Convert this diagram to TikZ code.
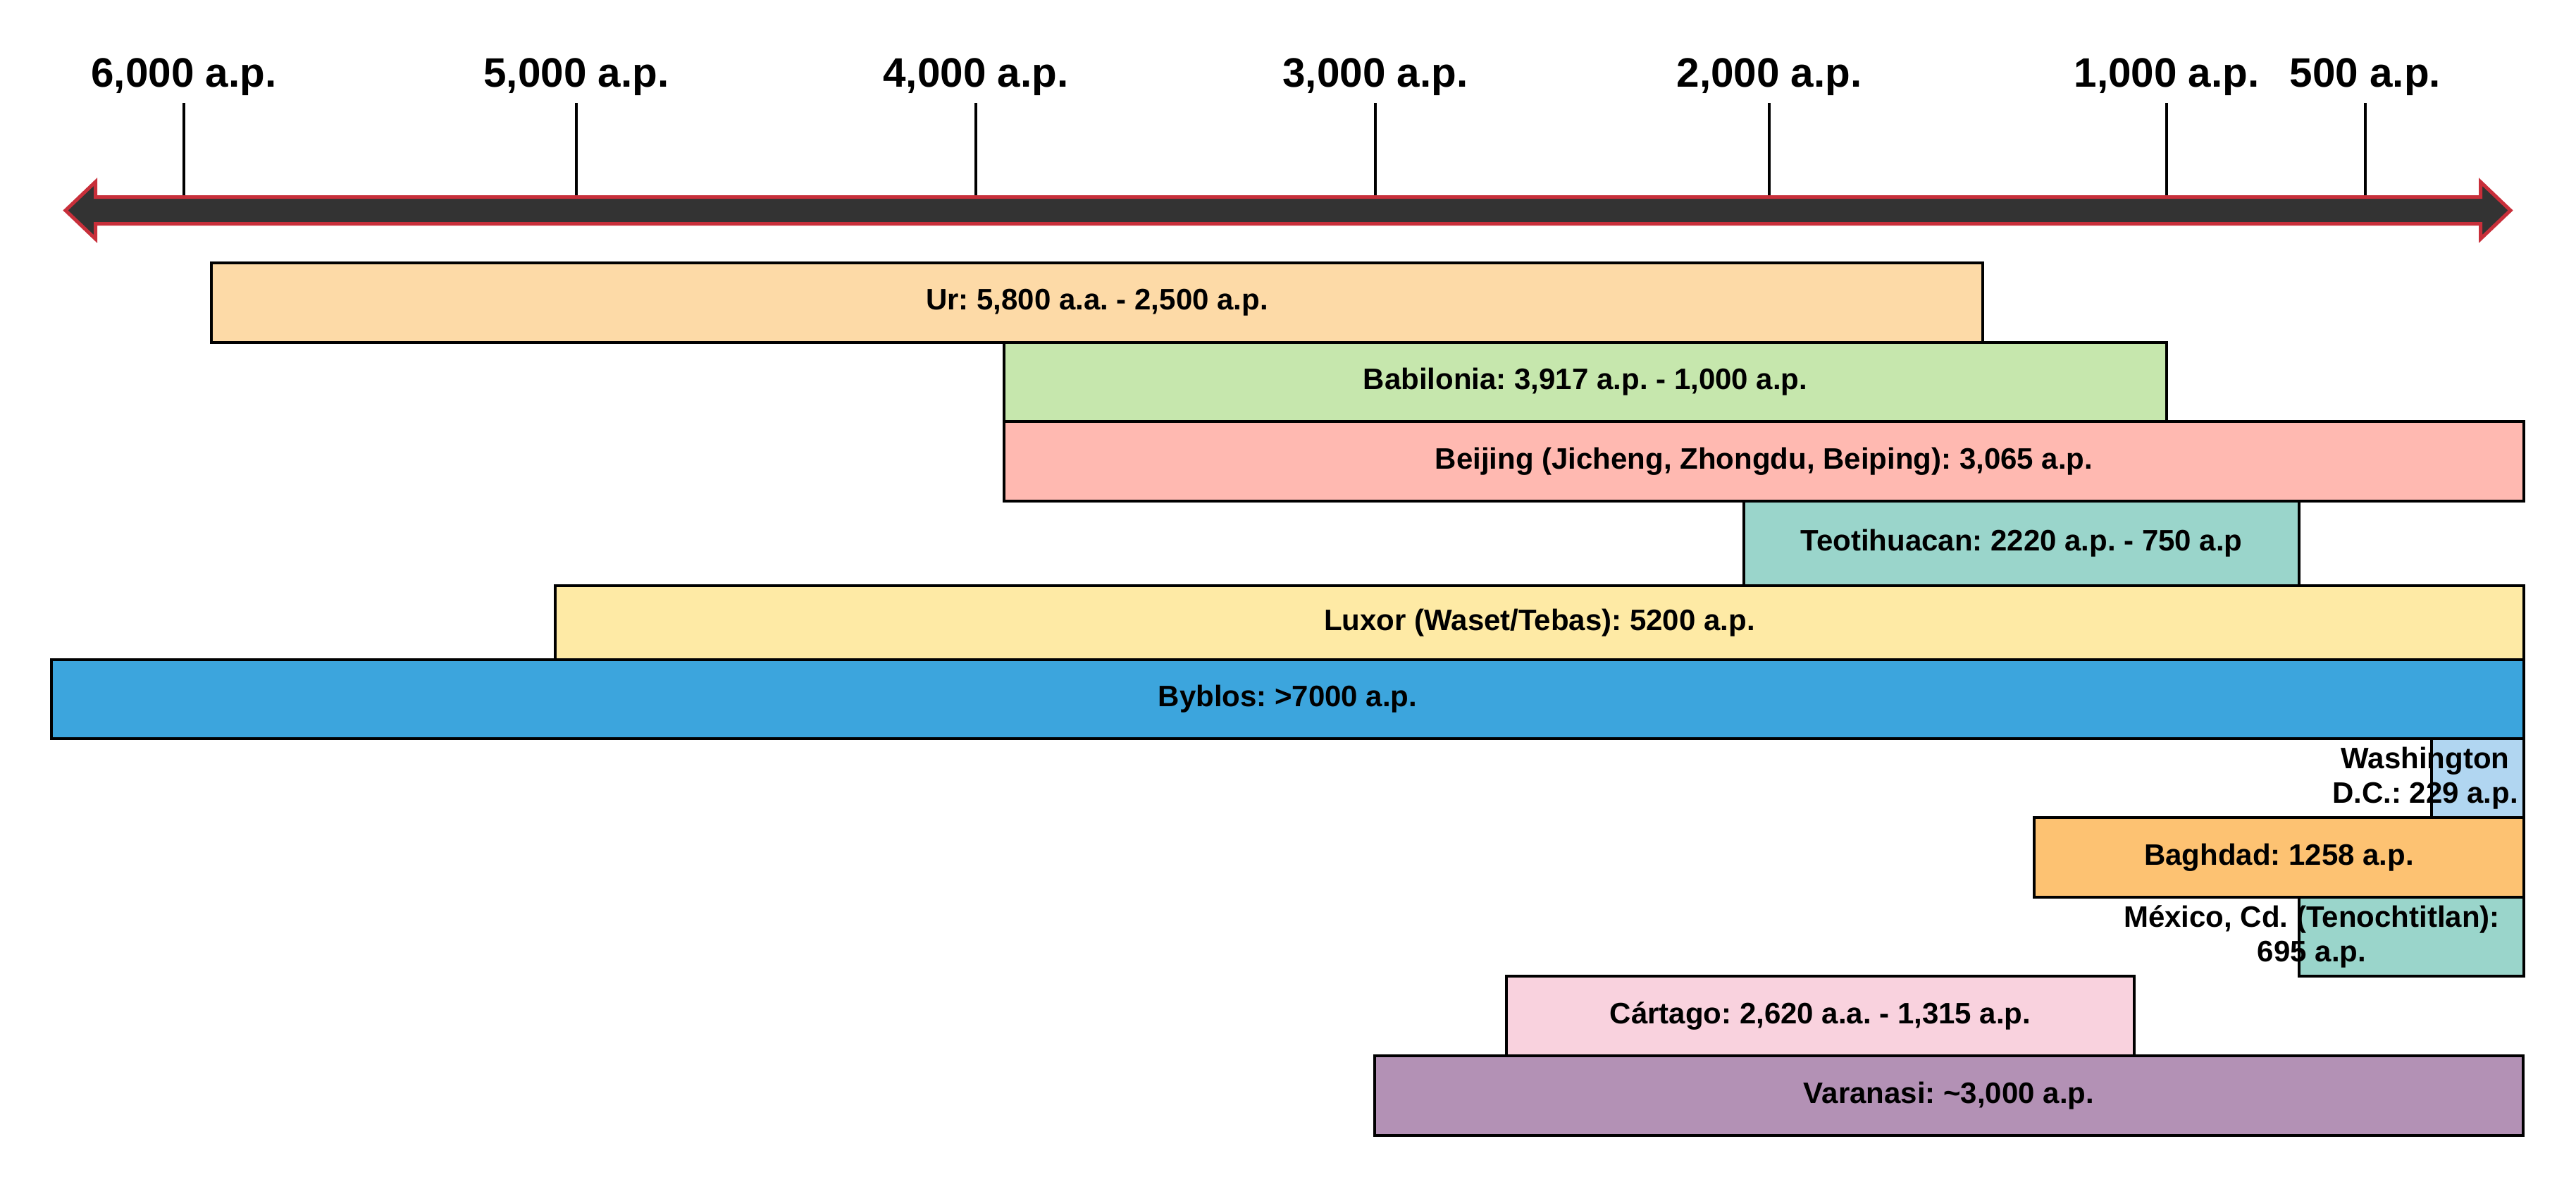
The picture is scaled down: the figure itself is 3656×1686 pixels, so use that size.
\documentclass[tikz,border=0pt]{standalone}
\usepackage{fontspec}
\setmainfont{Liberation Sans}
\frenchspacing
\definecolor{cUr}{HTML}{FDDAA7}
\definecolor{cBab}{HTML}{C6E7AD}
\definecolor{cBei}{HTML}{FFB9B1}
\definecolor{cTeo}{HTML}{9AD5CB}
\definecolor{cLux}{HTML}{FEEAA5}
\definecolor{cByb}{HTML}{3CA5DD}
\definecolor{cWas}{HTML}{B1D6F1}
\definecolor{cBag}{HTML}{FDC272}
\definecolor{cMex}{HTML}{9AD5CB}
\definecolor{cCar}{HTML}{F9D2DE}
\definecolor{cVar}{HTML}{B391B5}
\definecolor{arrowgray}{HTML}{333333}
\definecolor{arrowred}{HTML}{C82F3A}
\newcommand{\tlboxfont}{\fontsize{10.5pt}{12.25pt}\selectfont\bfseries\frenchspacing}
\newcommand{\tllabfont}{\fontsize{14.6pt}{17pt}\selectfont\bfseries}
\begin{document}
\begin{tikzpicture}[x=0.25pt,y=-0.25pt,
  cbox/.style={draw=black,line width=0.875pt,inner sep=0pt,outer sep=0pt,font=\tlboxfont},
  ctext/.style={inner sep=0pt,align=center,font=\tlboxfont},
  lab/.style={inner sep=0pt,anchor=base,font=\tllabfont},
  tick/.style={draw=black,line width=1pt}]
\useasboundingbox (0,0) rectangle (3656,1686);

% timeline arrow
\draw[fill=arrowgray,draw=arrowred,line width=1.25pt,line join=miter]
  (93,298.5) -- (135.5,258) -- (135.5,279.5) -- (3520.5,279.5) -- (3520.5,258)
  -- (3563,298.5) -- (3520.5,339) -- (3520.5,317.5) -- (135.5,317.5) -- (135.5,339) -- cycle;

% ticks and labels
\foreach \x/\t/\i in {261/{6,000 a.p.}/1, 818/{5,000 a.p.}/2, 1385/{4,000 a.p.}/3,
                      1952/{3,000 a.p.}/4, 2511/{2,000 a.p.}/5, 3075/{1,000 a.p.}/6, 3357/{500 a.p.}/7}{
  \node[lab] (lab\i) at (\x,123) {\t};
  \coordinate (tt\i) at (\x,146);
  \coordinate (tb\i) at (\x,277);
  \draw[tick] (tt\i) -- (tb\i);
}

% bars
\node[cbox,fill=cUr,minimum width=628.5pt,minimum height=28.25pt] (ur) at (1557,429.5) {Ur: 5,800 a.a. - 2,500 a.p.};
\node[cbox,fill=cBab,minimum width=412.5pt,minimum height=28pt] (bab) at (2250,542) {Babilonia: 3,917 a.p. - 1,000 a.p.};
\node[cbox,fill=cBei,minimum width=539.25pt,minimum height=28.25pt] (bei) at (2503.5,654.5) {Beijing (Jicheng, Zhongdu, Beiping): 3,065 a.p.};
\node[cbox,fill=cTeo,minimum width=197pt,minimum height=30pt] (teo) at (2869,771) {Teotihuacan: 2220 a.p. - 750 a.p};
\node[cbox,fill=cLux,minimum width=698.5pt,minimum height=26.25pt] (lux) at (2185,883.5) {Luxor (Waset/Tebas): 5200 a.p.};
\node[cbox,fill=cByb,minimum width=877.25pt,minimum height=28pt] (byb) at (1827.5,992) {Byblos: >7000 a.p.};
\node[cbox,fill=cWas,minimum width=32.75pt,minimum height=28pt] (was) at (3516.5,1104) {};
\node[cbox,fill=cBag,minimum width=173.75pt,minimum height=28.25pt] (bag) at (3234.5,1216.5) {Baghdad: 1258 a.p.};
\node[cbox,fill=cMex,minimum width=79.75pt,minimum height=28pt] (mex) at (3422.5,1329) {};
\node[cbox,fill=cCar,minimum width=222.75pt,minimum height=28.25pt] (car) at (2583.5,1441.5) {Cártago: 2,620 a.a. - 1,315 a.p.};
\node[cbox,fill=cVar,minimum width=407.5pt,minimum height=28.25pt] (var) at (2766,1554.5) {Varanasi: \textasciitilde 3,000 a.p.};

% overflowing labels
\node[ctext] (wastext) at (3442,1104) {Washington\\D.C.: 229 a.p.};
\node[ctext] (mextext) at (3281,1329) {México, Cd. (Tenochtitlan):\\695 a.p.};
\end{tikzpicture}
\end{document}
